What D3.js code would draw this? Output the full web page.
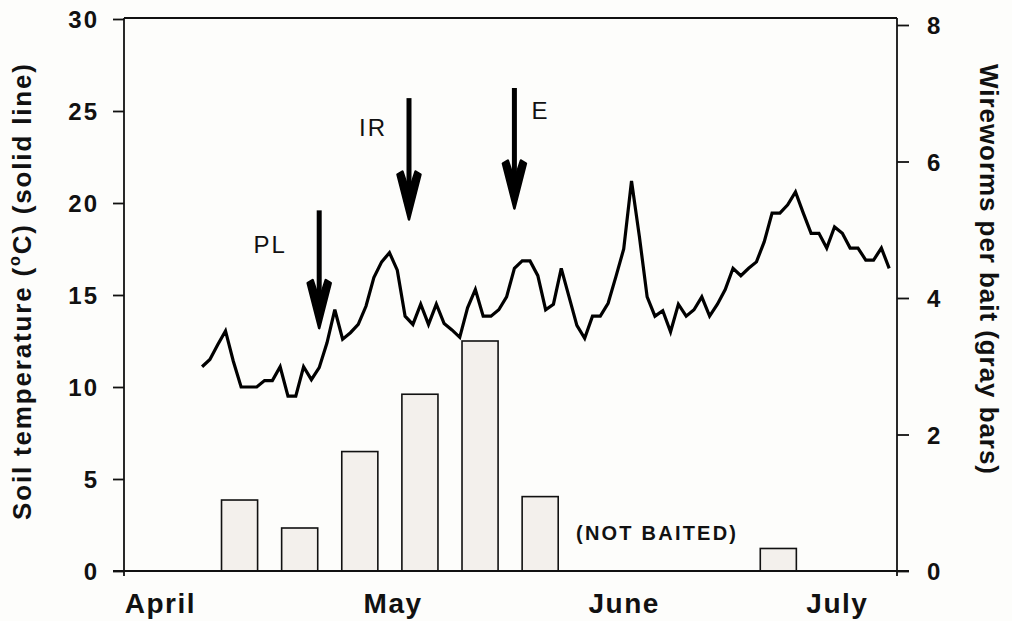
<!DOCTYPE html>
<html>
<head>
<meta charset="utf-8">
<script src="https://cdn.jsdelivr.net/npm/d3@7"></script>
<style>
  html, body { margin: 0; padding: 0; background: #fdfdfb; }
  svg { display: block; }
  text { font-family: "Liberation Sans", Arial, sans-serif; fill: #111; }
</style>
</head>
<body>
<svg id="chart" width="1012" height="621"></svg>
<script>
// Daily soil temperature (°C), one reading per day starting at day 10
const tempStartDay = 10;
const soilTemp = [11.1, 11.5, 12.3, 13.05, 11.4, 10.0, 10.0, 10.0, 10.35, 10.35,
  11.1, 9.5, 9.5, 11.1, 10.4, 11.05, 12.4, 14.2, 12.6, 12.95,
  13.4, 14.4, 15.95, 16.8, 17.3, 16.35, 13.85, 13.4, 14.5, 13.4,
  14.5, 13.45, 13.1, 12.7, 14.3, 15.3, 13.85, 13.85, 14.2, 14.9,
  16.45, 16.85, 16.85, 16.05, 14.2, 14.5, 16.45, 14.9, 13.35, 12.65,
  13.85, 13.85, 14.55, 16.0, 17.5, 21.2, 18.2, 14.9, 13.85, 14.15,
  13.0, 14.5, 13.85, 14.2, 14.9, 13.85, 14.5, 15.3, 16.45, 16.05,
  16.45, 16.8, 17.9, 19.45, 19.45, 19.9, 20.6, 19.45, 18.35, 18.35,
  17.55, 18.7, 18.35, 17.55, 17.55, 16.9, 16.9, 17.55, 16.45];

// Bait sampling dates (day of season) and mean wireworms per bait
const baitDays = [14.8, 22.5, 30.2, 37.9, 45.6, 53.3, 83.8];
const wireworms = [1.04, 0.63, 1.75, 2.59, 3.37, 1.09, 0.33];

// Month labels and their positions (day of season)
const monthNames = ["April", "May", "June", "July"];
const monthDays = [4.6, 34.4, 64.0, 91.3];

// Axis ticks
const tempTicks = [0, 5, 10, 15, 20, 25, 30];
const wormTicks = [0, 2, 4, 6, 8];

// Management events: day, arrow top and tip (°C scale)
const eventNames = ["PL", "IR", "E"];
const eventDays = [25.0, 36.5, 50.0];
const eventTop = [19.6, 25.7, 26.25];
const eventTip = [13.2, 19.1, 19.7];

const svg = d3.select("#chart");
const plotLeft = 124, plotRight = 897, plotTop = 18, plotBottom = 571;

const x = d3.scaleLinear().domain([0, 99]).range([plotLeft, plotRight]);
const yT = d3.scaleLinear().domain([0, 30]).range([plotBottom, 19]);
const yW = d3.scaleLinear().domain([0, 8]).range([plotBottom, 25]);

const fontBold = "Liberation Sans, Arial, sans-serif";

// Bars (drawn first so the line sits on top)
const barHalf = 2.31; // half width in days
svg.append("g").selectAll("rect")
  .data(baitDays.map((d, i) => ({ day: d, v: wireworms[i] })))
  .join("rect")
  .attr("x", d => x(d.day - barHalf))
  .attr("width", d => x(d.day + barHalf) - x(d.day - barHalf))
  .attr("y", d => yW(d.v))
  .attr("height", d => yW(0) - yW(d.v))
  .attr("fill", "#f3f0ec")
  .attr("stroke", "#111")
  .attr("stroke-width", 1.6);

// Frame top line
svg.append("line")
  .attr("x1", plotLeft).attr("x2", plotRight)
  .attr("y1", plotTop).attr("y2", plotTop)
  .attr("stroke", "#111").attr("stroke-width", 1.8);

// Left axis (temperature)
const gL = svg.append("g").attr("transform", `translate(${plotLeft},0)`)
  .call(d3.axisLeft(yT).tickValues(tempTicks).tickSize(11).tickSizeOuter(0).tickPadding(14));
gL.select(".domain").attr("d", `M0,${plotBottom}V${plotTop}`);
gL.selectAll("path, line").attr("stroke", "#111").attr("stroke-width", 1.8);
gL.selectAll("text")
  .attr("font-family", fontBold).attr("font-weight", "bold")
  .attr("font-size", 24).attr("letter-spacing", 2).attr("dy", "0.36em");

// Right axis (wireworms)
const gR = svg.append("g").attr("transform", `translate(${plotRight},0)`)
  .call(d3.axisRight(yW).tickValues(wormTicks).tickSize(12).tickSizeOuter(0).tickPadding(18));
gR.select(".domain").attr("d", `M0,${plotBottom}V${plotTop}`);
gR.selectAll("path, line").attr("stroke", "#111").attr("stroke-width", 1.8);
gR.selectAll("text")
  .attr("font-family", fontBold).attr("font-weight", "bold")
  .attr("font-size", 24).attr("dy", "0.36em");

// Bottom axis (months)
const gB = svg.append("g").attr("transform", `translate(0,${plotBottom})`)
  .call(d3.axisBottom(x).tickValues(monthDays).tickFormat((d, i) => monthNames[i])
    .tickSize(0).tickSizeOuter(0).tickPadding(22));
gB.select(".domain").attr("d", `M${plotLeft - 11},0H${plotRight + 12}`)
  .attr("stroke", "#111").attr("stroke-width", 1.8);
gB.selectAll("text")
  .attr("font-family", fontBold).attr("font-weight", "bold")
  .attr("font-size", 28).attr("letter-spacing", 1.5).attr("dy", "0.71em");
// small end ticks below the baseline
svg.append("g").selectAll("line").data([0, 99]).join("line")
  .attr("x1", d => x(d)).attr("x2", d => x(d))
  .attr("y1", plotBottom).attr("y2", plotBottom + 5)
  .attr("stroke", "#111").attr("stroke-width", 1.8);

// Temperature line
const line = d3.line()
  .x((d, i) => x(tempStartDay + i))
  .y(d => yT(d));
svg.append("path")
  .datum(soilTemp)
  .attr("d", line)
  .attr("fill", "none")
  .attr("stroke", "#000")
  .attr("stroke-width", 3.2)
  .attr("stroke-linejoin", "miter");

// Event arrows
const headLen = 48, headHalf = 11.5;
const events = eventNames.map((n, i) => ({ name: n, day: eventDays[i], top: eventTop[i], tip: eventTip[i] }));
const ga = svg.append("g");
events.forEach(e => {
  const ax = x(e.day), y0 = yT(e.top), y1 = yT(e.tip);
  ga.append("line")
    .attr("x1", ax).attr("x2", ax)
    .attr("y1", y0).attr("y2", y1 - 20)
    .attr("stroke", "#000").attr("stroke-width", 5);
  ga.append("path")
    .attr("d", `M${ax},${y1} L${ax - headHalf},${y1 - headLen + 3} L${ax - headHalf + 5},${y1 - headLen}
               L${ax},${y1 - 28} L${ax + headHalf - 5},${y1 - headLen} L${ax + headHalf},${y1 - headLen + 3} Z`)
    .attr("fill", "#000").attr("stroke", "#000")
    .attr("stroke-width", 2.5).attr("stroke-linejoin", "round");
});

// Event labels
const labelPos = { PL: [-49, 17.75], IR: [-36, 24.1], E: [26, 25.05] };
events.forEach(e => {
  svg.append("text")
    .attr("x", x(e.day) + labelPos[e.name][0])
    .attr("y", yT(labelPos[e.name][1]))
    .attr("dy", "0.36em")
    .attr("text-anchor", "middle")
    .attr("font-size", 24)
    .attr("letter-spacing", 2)
    .text(e.name);
});

// Not-baited note
svg.append("text")
  .attr("x", 576).attr("y", 540)
  .attr("font-weight", "bold").attr("font-size", 20)
  .attr("textLength", 160).attr("lengthAdjust", "spacing")
  .text("(NOT BAITED)");

// Left axis title
const tl = svg.append("text")
  .attr("transform", `translate(31,${(64 + 520) / 2}) rotate(-90)`)
  .attr("text-anchor", "middle")
  .attr("font-weight", "bold").attr("font-size", 26)
  .attr("textLength", 456).attr("lengthAdjust", "spacing");
tl.append("tspan").text("Soil temperature (");
tl.append("tspan").attr("font-size", 16).attr("dy", -11).text("o");
tl.append("tspan").attr("dy", 11).text("C) (solid line)");

// Right axis title
svg.append("text")
  .attr("transform", `translate(980,${(64 + 474) / 2}) rotate(90)`)
  .attr("text-anchor", "middle")
  .attr("font-weight", "bold").attr("font-size", 26)
  .attr("textLength", 410).attr("lengthAdjust", "spacing")
  .text("Wireworms per bait (gray bars)");
</script>
</body>
</html>
